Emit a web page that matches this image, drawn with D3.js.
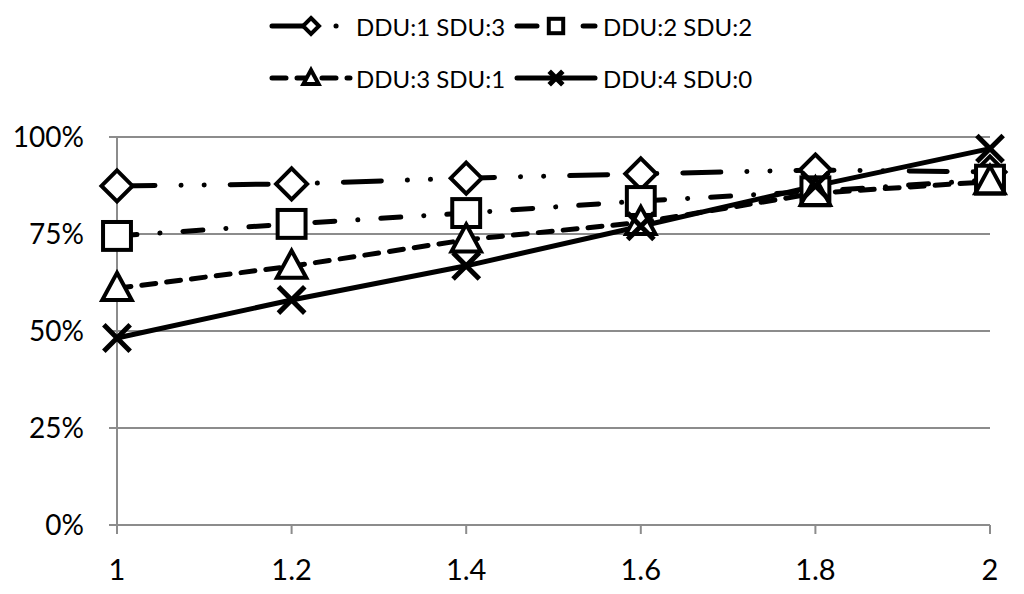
<!DOCTYPE html>
<html>
<head>
<meta charset="utf-8">
<script src="https://cdn.jsdelivr.net/npm/d3@7"></script>
<style>
  body { margin: 0; background: #fff; }
  text { font-family: Lato, "Open Sans", sans-serif; fill: #000; }
</style>
</head>
<body>
<div id="chart"></div>
<script>
var xValues = [1, 1.2, 1.4, 1.6, 1.8, 2];
var seriesNames = ['DDU:1 SDU:3', 'DDU:2 SDU:2', 'DDU:3 SDU:1', 'DDU:4 SDU:0'];
var ddu1 = [0.874, 0.879, 0.894, 0.905, 0.915, 0.91];
var ddu2 = [0.745, 0.776, 0.804, 0.835, 0.86, 0.89];
var ddu3 = [0.61, 0.667, 0.735, 0.78, 0.855, 0.885];
var ddu4 = [0.482, 0.58, 0.668, 0.77, 0.874, 0.97];
var yTicks = [0, 0.25, 0.5, 0.75, 1];
var xTicks = [1, 1.2, 1.4, 1.6, 1.8, 2];

var series = [
  { name: seriesNames[0], values: ddu1, symbol: 'diamond', dash: '38 26 0.1 23 0.1 26' },
  { name: seriesNames[1], values: ddu2, symbol: 'square', dash: '20 23 0.1 23' },
  { name: seriesNames[2], values: ddu3, symbol: 'triangle', dash: '14 11' },
  { name: seriesNames[3], values: ddu4, symbol: 'cross', dash: null }
];

var width = 1024, height = 594;
var margin = { left: 117, right: 34, top: 137, bottom: 69 };

var svg = d3.select('#chart').append('svg')
  .attr('width', width)
  .attr('height', height);

var x = d3.scaleLinear().domain([1, 2]).range([margin.left, width - margin.right]);
var y = d3.scaleLinear().domain([0, 1]).range([height - margin.bottom, margin.top]);

// gridlines
svg.append('g')
  .selectAll('line')
  .data(yTicks)
  .enter().append('line')
  .attr('x1', margin.left - 8)
  .attr('x2', width - margin.right)
  .attr('y1', d => y(d))
  .attr('y2', d => y(d))
  .attr('stroke', '#8c8c8c')
  .attr('stroke-width', 2);

// y axis line
svg.append('line')
  .attr('x1', margin.left).attr('x2', margin.left)
  .attr('y1', y(1)).attr('y2', y(0))
  .attr('stroke', '#8c8c8c').attr('stroke-width', 2);

// x ticks
svg.append('g')
  .selectAll('line')
  .data(xTicks)
  .enter().append('line')
  .attr('x1', d => x(d)).attr('x2', d => x(d))
  .attr('y1', y(0)).attr('y2', y(0) + 9)
  .attr('stroke', '#8c8c8c').attr('stroke-width', 2);

svg.append('g')
  .selectAll('text')
  .data(yTicks)
  .enter().append('text')
  .attr('x', margin.left - 33)
  .attr('y', d => y(d) - 1)
  .attr('text-anchor', 'end')
  .attr('dominant-baseline', 'central')
  .attr('font-size', 28)
  .text(d => d3.format('.0%')(d));

svg.append('g')
  .selectAll('text')
  .data(xTicks)
  .enter().append('text')
  .attr('x', d => x(d))
  .attr('y', y(0) + 43)
  .attr('text-anchor', 'middle')
  .attr('dominant-baseline', 'central')
  .attr('font-size', 29)
  .text(d => d3.format('~g')(d));

function drawSymbol(g, type, size, sw) {
  var h = size / 2;
  if (type === 'diamond') {
    g.append('path').attr('d', `M0,${-h} L${h},0 L0,${h} L${-h},0 Z`)
      .attr('fill', '#fff').attr('stroke', '#000').attr('stroke-width', sw);
  } else if (type === 'square') {
    var s = h * 0.9;
    g.append('rect').attr('x', -s).attr('y', -s).attr('width', 2 * s).attr('height', 2 * s)
      .attr('fill', '#fff').attr('stroke', '#000').attr('stroke-width', sw);
  } else if (type === 'triangle') {
    g.append('path').attr('d', `M0,${-h} L${h * 0.95},${h * 0.75} L${-h * 0.95},${h * 0.75} Z`)
      .attr('fill', '#fff').attr('stroke', '#000').attr('stroke-width', sw)
      .attr('stroke-linejoin', 'miter');
  } else {
    var c = h * 0.85;
    g.append('path').attr('d', `M${-c},${-c} L${c},${c} M${-c},${c} L${c},${-c}`)
      .attr('fill', 'none').attr('stroke', '#000').attr('stroke-width', sw + 1);
  }
}

var line = d3.line().x(d => x(d[0])).y(d => y(d[1]));

series.forEach(function(s) {
  var pts = xValues.map((v, i) => [v, s.values[i]]);
  svg.append('path')
    .datum(pts)
    .attr('d', line)
    .attr('fill', 'none')
    .attr('stroke', '#000')
    .attr('stroke-width', 5)
    .attr('stroke-linecap', 'round')
    .attr('stroke-dasharray', s.dash);
});

series.forEach(function(s) {
  xValues.forEach(function(v, i) {
    var g = svg.append('g').attr('transform', `translate(${x(v)},${y(s.values[i])})`);
    drawSymbol(g, s.symbol, 31, 4);
  });
});

// legend
var legendPos = [
  { lx: 272, y: 26, tx: 356 },
  { lx: 517, y: 26, tx: 603 },
  { lx: 272, y: 78, tx: 356 },
  { lx: 517, y: 78, tx: 603 }
];
series.forEach(function(s, i) {
  var p = legendPos[i];
  svg.append('line')
    .attr('x1', p.lx).attr('x2', p.lx + 78)
    .attr('y1', p.y).attr('y2', p.y)
    .attr('stroke', '#000').attr('stroke-width', 5)
    .attr('stroke-linecap', 'round')
    .attr('stroke-dasharray', s.dash);
  var g = svg.append('g').attr('transform', `translate(${p.lx + 39},${p.y})`);
  drawSymbol(g, s.symbol, 16, 4);
  svg.append('text')
    .attr('x', p.tx).attr('y', p.y)
    .attr('dominant-baseline', 'central')
    .attr('font-size', 24)
    .text(s.name);
});
</script>
</body>
</html>
